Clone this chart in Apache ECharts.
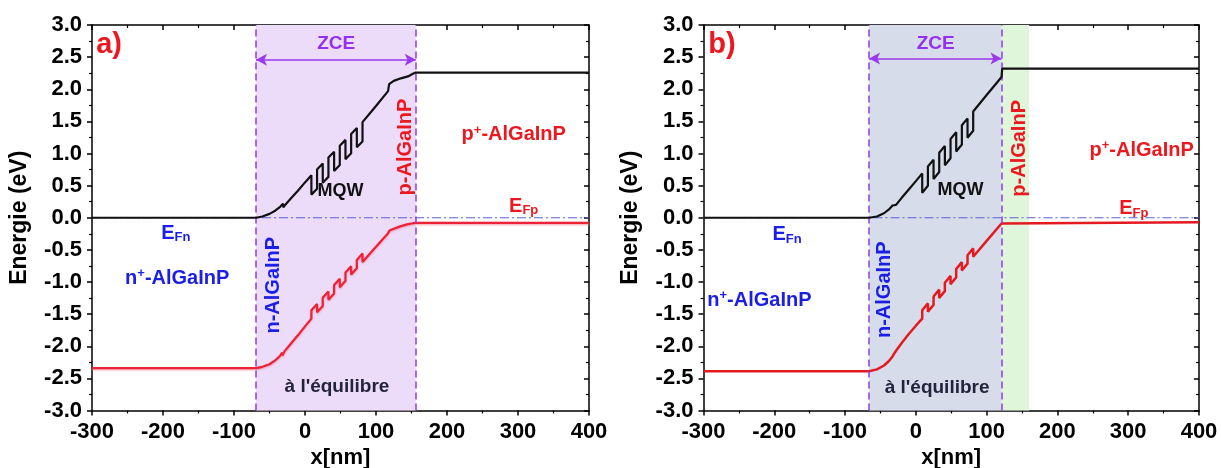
<!DOCTYPE html>
<html>
<head>
<meta charset="utf-8">
<script src="https://cdn.jsdelivr.net/npm/echarts@6/dist/echarts.min.js"></script>
<style>
html,body{margin:0;padding:0;background:#fff;}
#chart{width:1221px;height:468px;}
</style>
</head>
<body>
<div id="chart"></div>
<script>
// ---- Data ----
const xTicks = [-300, -200, -100, 0, 100, 200, 300, 400];
const yTicks = [-3.0, -2.5, -2.0, -1.5, -1.0, -0.5, 0.0, 0.5, 1.0, 1.5, 2.0, 2.5, 3.0];

// Panel a) conduction band (black)
const cbA = [[-300,0],[-69,0],[-60,0.02],[-50,0.06],[-42,0.11],[-35,0.17],[-31,0.22],[-30.5,0.16],[-28,0.2],[-20,0.3],[-10,0.42],[0,0.55],[9,0.66],[9,0.36],[17,0.452],[17,0.752],[25,0.844],[25,0.544],[33,0.636],[33,0.936],[41,1.028],[41,0.728],[49,0.82],[49,1.12],[57,1.212],[57,0.912],[65,1.004],[65,1.304],[73,1.396],[73,1.096],[81,1.188],[81,1.488],[100,1.74],[117,1.97],[118.5,2.08],[125,2.13],[135,2.17],[145,2.2],[152,2.24],[156,2.26],[400,2.26]];
// Panel a) valence band (red)
const vbA = [[-300,-2.34],[-69,-2.34],[-60,-2.32],[-50,-2.28],[-42,-2.22],[-36,-2.16],[-32,-2.1],[-31.5,-2.14],[-29,-2.08],[-20,-1.96],[-10,-1.83],[0,-1.69],[9,-1.57],[9,-1.44],[17,-1.342],[17,-1.472],[25,-1.374],[25,-1.244],[33,-1.146],[33,-1.276],[41,-1.178],[41,-1.048],[49,-0.95],[49,-1.08],[57,-0.982],[57,-0.852],[65,-0.754],[65,-0.884],[73,-0.786],[73,-0.656],[81,-0.558],[81,-0.688],[100,-0.45],[117,-0.24],[119,-0.2],[125,-0.17],[135,-0.13],[145,-0.1],[152,-0.085],[156,-0.08],[400,-0.08]];
// Panel b) conduction band (black)
const cbB = [[-300,0],[-66,0],[-55,0.02],[-45,0.07],[-38,0.13],[-33,0.19],[-31.5,0.22],[-31,0.16],[-28,0.2],[-20,0.31],[-10,0.44],[0,0.57],[9,0.69],[9,0.39],[17,0.497],[17,0.797],[25,0.904],[25,0.604],[33,0.711],[33,1.011],[41,1.118],[41,0.818],[49,0.925],[49,1.225],[57,1.332],[57,1.032],[65,1.139],[65,1.439],[73,1.546],[73,1.246],[81,1.353],[81,1.653],[100,1.91],[115,2.11],[121,2.19],[122,2.32],[400,2.32]];
// Panel b) valence band (red)
const vbB = [[-300,-2.39],[-66,-2.39],[-55,-2.36],[-45,-2.3],[-38,-2.23],[-33,-2.16],[-31,-2.12],[-30.5,-2.15],[-28,-2.07],[-20,-1.95],[-10,-1.81],[0,-1.68],[9,-1.57],[9,-1.44],[17,-1.333],[17,-1.463],[25,-1.356],[25,-1.226],[33,-1.119],[33,-1.249],[41,-1.142],[41,-1.012],[49,-0.905],[49,-1.035],[57,-0.928],[57,-0.798],[65,-0.691],[65,-0.821],[73,-0.714],[73,-0.584],[81,-0.477],[81,-0.607],[100,-0.36],[121,-0.09],[122,-0.07],[400,-0.07]];
// Fermi level (dash-dot)
const fermi = [[-300,0],[400,0]];
// Zone boundaries (nm)
const zceA = [-69, 156];
const zceB = [-66, 121];
const greenB = [121, 160];
const arrowYA = 2.46;
const arrowYB = 2.48;

// ---- Styles ----
const FONT = '"Liberation Sans", Arial, sans-serif';
const BLUE = '#1a1ee6';
const RED = '#ec1820';
const PURPLE = '#9530f0';

function rich(color, size) {
  return {
    a: {fontSize: size, fontWeight: 'bold', fontFamily: FONT, color: color, lineHeight: size + 2},
    sub: {fontSize: Math.round(size * 0.65), fontWeight: 'bold', fontFamily: FONT, color: color, lineHeight: 12, padding: [Math.round(size*0.55),0,0,0], verticalAlign: 'bottom'},
    sup: {fontSize: Math.round(size * 0.65), fontWeight: 'bold', fontFamily: FONT, color: color, lineHeight: 12, padding: [0,0,Math.round(size*0.45),0], verticalAlign: 'top'}
  };
}

const annA = [
  {p:[-276,2.69], t:'{a|a)}', c:RED, s:29},
  {p:[44,2.71], t:'{a|ZCE}', c:PURPLE, s:19},
  {p:[50,0.41], t:'{a|MQW}', c:'#111', s:18},
  {p:[45,-2.63], t:'{a|à l\'équilibre}', c:'#23233d', s:19},
  {p:[-182,-0.24], t:'{a|E}{sub|Fn}', c:BLUE, s:20},
  {p:[-180,-0.94], t:'{a|n}{sup|+}{a|-AlGaInP}', c:BLUE, s:20},
  {p:[-45,-1.05], t:'{a|n-AlGaInP}', c:BLUE, s:20, r:90},
  {p:[141,1.1], t:'{a|p-AlGaInP}', c:RED, s:20, r:90},
  {p:[294,1.29], t:'{a|p}{sup|+}{a|-AlGaInP}', c:RED, s:20},
  {p:[308,0.18], t:'{a|E}{sub|Fp}', c:RED, s:20}
];
const annB = [
  {p:[-274,2.69], t:'{a|b)}', c:RED, s:29},
  {p:[28,2.71], t:'{a|ZCE}', c:PURPLE, s:19},
  {p:[63,0.43], t:'{a|MQW}', c:'#111', s:18},
  {p:[30,-2.65], t:'{a|à l\'équilibre}', c:'#23233d', s:19},
  {p:[-182,-0.26], t:'{a|E}{sub|Fn}', c:BLUE, s:20},
  {p:[-221,-1.28], t:'{a|n}{sup|+}{a|-AlGaInP}', c:BLUE, s:20},
  {p:[-44,-1.12], t:'{a|n-AlGaInP}', c:BLUE, s:20, r:90},
  {p:[146,1.08], t:'{a|p-AlGaInP}', c:RED, s:20, r:90},
  {p:[319,1.05], t:'{a|p}{sup|+}{a|-AlGaInP}', c:RED, s:20},
  {p:[308,0.14], t:'{a|E}{sub|Fp}', c:RED, s:20}
];

function xAxisMain(gi) {
  return {
    type: 'value', gridIndex: gi, position: 'bottom', min: -300, max: 400, interval: 100,
    axisLine: {onZero: false, lineStyle: {color: '#000', width: 1.5}},
    axisTick: {inside: false, length: 5, lineStyle: {color: '#000', width: 1.5}},
    minorTick: {show: true, splitNumber: 2, length: 3, lineStyle: {color: '#000', width: 1.2}},
    splitLine: {show: false},
    axisLabel: {color: '#000', fontSize: 22, fontWeight: 'bold', fontFamily: FONT, margin: 10},
    name: 'x[nm]', nameLocation: 'middle', nameGap: 36,
    nameTextStyle: {color: '#000', fontSize: 22, fontWeight: 'bold', fontFamily: FONT}
  };
}
function xAxisTop(gi) {
  return {
    type: 'value', gridIndex: gi, position: 'top', min: -300, max: 400, interval: 100,
    axisLine: {onZero: false, lineStyle: {color: '#000', width: 1.5}},
    axisTick: {inside: true, length: 5, lineStyle: {color: '#000', width: 1.5}},
    minorTick: {show: true, splitNumber: 2, length: 3, lineStyle: {color: '#000', width: 1.2}},
    splitLine: {show: false}, axisLabel: {show: false}
  };
}
function yAxisMain(gi) {
  return {
    type: 'value', gridIndex: gi, position: 'left', min: -3, max: 3, interval: 0.5,
    axisLine: {onZero: false, lineStyle: {color: '#000', width: 1.5}},
    axisTick: {inside: false, length: 5, lineStyle: {color: '#000', width: 1.5}},
    minorTick: {show: true, splitNumber: 2, length: 3, lineStyle: {color: '#000', width: 1.2}},
    splitLine: {show: false},
    axisLabel: {color: '#000', fontSize: 22, fontWeight: 'bold', fontFamily: FONT, margin: 10,
      formatter: v => v.toFixed(1)},
    name: 'Energie (eV)', nameLocation: 'middle', nameGap: 61, nameRotate: 90,
    nameTextStyle: {color: '#000', fontSize: 23, fontWeight: 'bold', fontFamily: FONT}
  };
}
function yAxisRight(gi) {
  return {
    type: 'value', gridIndex: gi, position: 'right', min: -3, max: 3, interval: 0.5,
    axisLine: {onZero: false, lineStyle: {color: '#000', width: 1.5}},
    axisTick: {inside: true, length: 5, lineStyle: {color: '#000', width: 1.5}},
    minorTick: {show: true, splitNumber: 2, length: 3, lineStyle: {color: '#000', width: 1.2}},
    splitLine: {show: false}, axisLabel: {show: false}
  };
}

function panelSeries(xi, yi, cb, vb, zce, arrowY, ann, shade, green, redStyle) {
  const s = [];
  const areas = [[{xAxis: zce[0], itemStyle: {color: shade}}, {xAxis: zce[1]}]];
  if (green) areas.push([{xAxis: green[0], itemStyle: {color: '#dff6da'}}, {xAxis: green[1]}]);
  s.push({
    type: 'line', xAxisIndex: xi, yAxisIndex: yi, data: [], z: 1, silent: true,
    markArea: {silent: true, data: areas},
    markLine: {
      silent: true, symbol: 'none', label: {show: false},
      lineStyle: {color: '#8f3ae8', width: 1.5, type: [7, 4]},
      data: [{xAxis: zce[0]}, {xAxis: zce[1]}]
    }
  });
  s.push({
    type: 'line', xAxisIndex: xi, yAxisIndex: yi, data: fermi, z: 2, showSymbol: false, silent: true,
    lineStyle: {color: '#5b5fe0', width: 1, type: [9, 3, 2, 3]}
  });
  s.push({
    type: 'line', xAxisIndex: xi, yAxisIndex: yi, data: [], z: 3, silent: true,
    markLine: {
      silent: true, symbol: ['arrow', 'arrow'], symbolSize: [9, 11], label: {show: false},
      lineStyle: {color: '#9a38ee', width: 1.6, type: 'solid'},
      data: [[{coord: [zce[0], arrowY]}, {coord: [zce[1], arrowY]}]]
    }
  });
  s.push({
    type: 'line', xAxisIndex: xi, yAxisIndex: yi, data: vb, z: 4, showSymbol: false, silent: true,
    lineStyle: redStyle
  });
  s.push({
    type: 'line', xAxisIndex: xi, yAxisIndex: yi, data: cb, z: 5, showSymbol: false, silent: true,
    lineStyle: {color: '#111', width: 2.2}
  });
  s.push({
    type: 'scatter', xAxisIndex: xi, yAxisIndex: yi, z: 6, silent: true, symbolSize: 0,
    itemStyle: {opacity: 1},
    data: ann.map(a => ({
      value: a.p,
      itemStyle: {opacity: 1},
      label: {show: true, position: 'inside', rotate: a.r || 0, formatter: a.t, rich: rich(a.c, a.s), opacity: 1}
    }))
  });
  return s;
}

const chart = echarts.init(document.getElementById('chart'), null, {renderer: 'canvas'});
chart.setOption({
  animation: false,
  backgroundColor: '#fff',
  grid: [
    {left: 92, right: 632, top: 25, bottom: 57.5, outerBoundsMode: 'none', containLabel: false},
    {left: 703.5, right: 22, top: 25, bottom: 57.5, outerBoundsMode: 'none', containLabel: false}
  ],
  xAxis: [xAxisMain(0), xAxisTop(0), xAxisMain(1), xAxisTop(1)],
  yAxis: [yAxisMain(0), yAxisRight(0), yAxisMain(1), yAxisRight(1)],
  series: [].concat(
    panelSeries(0, 0, cbA, vbA, zceA, arrowYA, annA, '#ecdcf9', null,
      {color: '#ec2236', width: 2.2, shadowColor: 'rgba(240,120,140,0.7)', shadowBlur: 2, shadowOffsetY: 1}),
    panelSeries(2, 2, cbB, vbB, zceB, arrowYB, annB, '#d6dce9', greenB,
      {color: '#e41a20', width: 2.5})
  )
});
</script>
</body>
</html>
